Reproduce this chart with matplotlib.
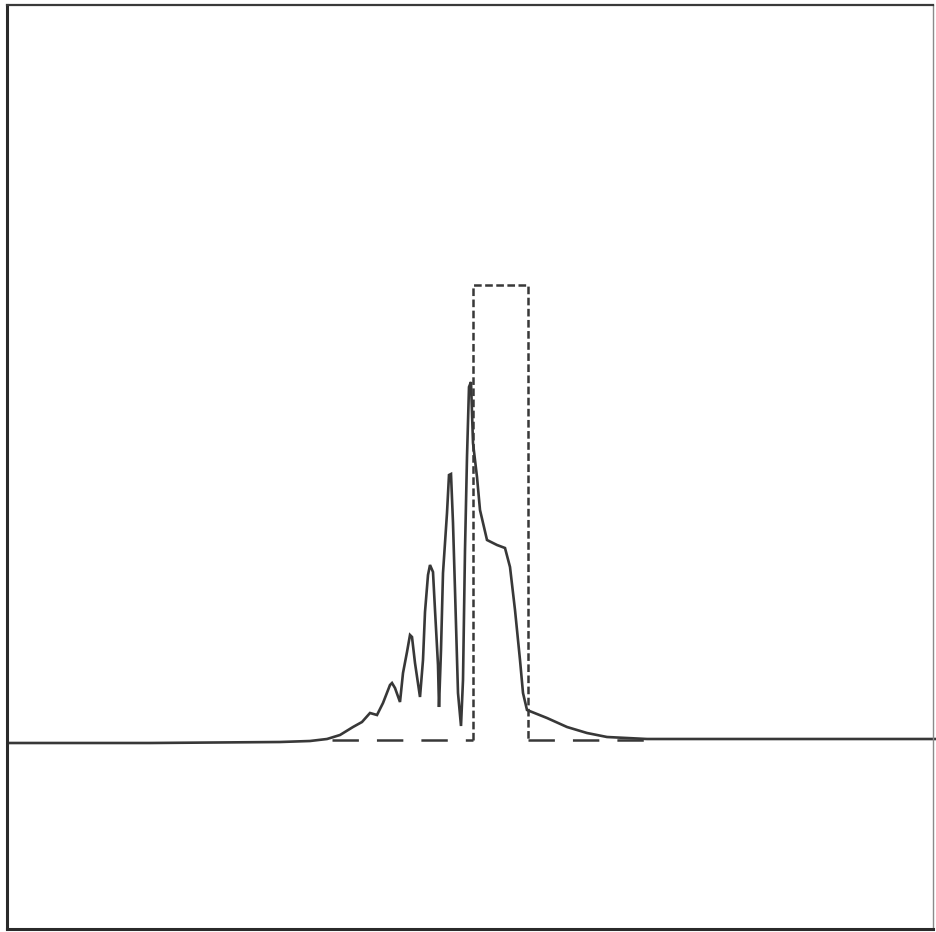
import matplotlib
matplotlib.use("Agg")
import matplotlib.pyplot as plt

plt.rcParams["lines.scale_dashes"] = False

# Measured trace (sample index, amplitude in arbitrary units)
trace_x = [1, 143, 273, 303, 320, 333, 346, 355, 363, 370, 376, 383, 385, 388,
           393, 396, 400, 403, 405, 408, 413, 416, 418, 421, 423, 426, 428, 431,
           432, 434, 436, 440, 442, 444, 446, 448, 451, 454, 456, 458, 460, 462,
           464, 466, 470, 473, 480, 490, 498, 503, 508, 513, 516, 520, 540, 560,
           580, 600, 640, 929]
trace_y = [-3, -3, -2, -1, 1, 5, 13, 18, 27, 25, 37, 55, 57, 52,
           38, 67, 88, 105, 103, 77, 43, 80, 128, 165, 175, 168, 130, 75,
           33, 90, 167, 227, 265, 266, 217, 150, 47, 14, 60, 190, 283, 353,
           358, 297, 263, 230, 200, 195, 192, 173, 130, 80, 47, 30, 22, 13,
           7, 3, 1, 1]

# Reference rectangular pulse
pulse_x = [325, 466, 466, 521, 521, 641]
pulse_y = [0, 0, 455, 455, 0, 0]

W, H = 936, 932
fig = plt.figure(figsize=(W / 100, H / 100), dpi=100)
ax = fig.add_axes([7 / W, 3 / H, (933 - 7) / W, (929 - 5) / H])
ax.set_xlim(0, 926)
ax.set_ylim(-189, 735)

ink = "#383838"
ax.plot(trace_x, trace_y, color=ink, lw=1.9, solid_joinstyle="miter", clip_on=False)

# pulse: long dashes on the baseline, short dashes on the raised part
ax.plot(pulse_x[0:2], pulse_y[0:2], color=ink, lw=1.8, dashes=(19, 13))
ax.plot(pulse_x[1:5], pulse_y[1:5], color=ink, lw=1.8, dashes=(5.5, 2.5))
ax.plot(pulse_x[4:6], pulse_y[4:6], color=ink, lw=1.8, dashes=(19, 13))

ax.set_xticks([])
ax.set_yticks([])
for side, w, c in [("left", 2.2, "#2a2a2a"), ("top", 1.6, "#3a3a3a"),
                   ("bottom", 2.2, "#2a2a2a"), ("right", 1.0, "#8a8a8a")]:
    ax.spines[side].set_linewidth(w)
    ax.spines[side].set_color(c)

fig.savefig("out.png", dpi=100, facecolor="white")
